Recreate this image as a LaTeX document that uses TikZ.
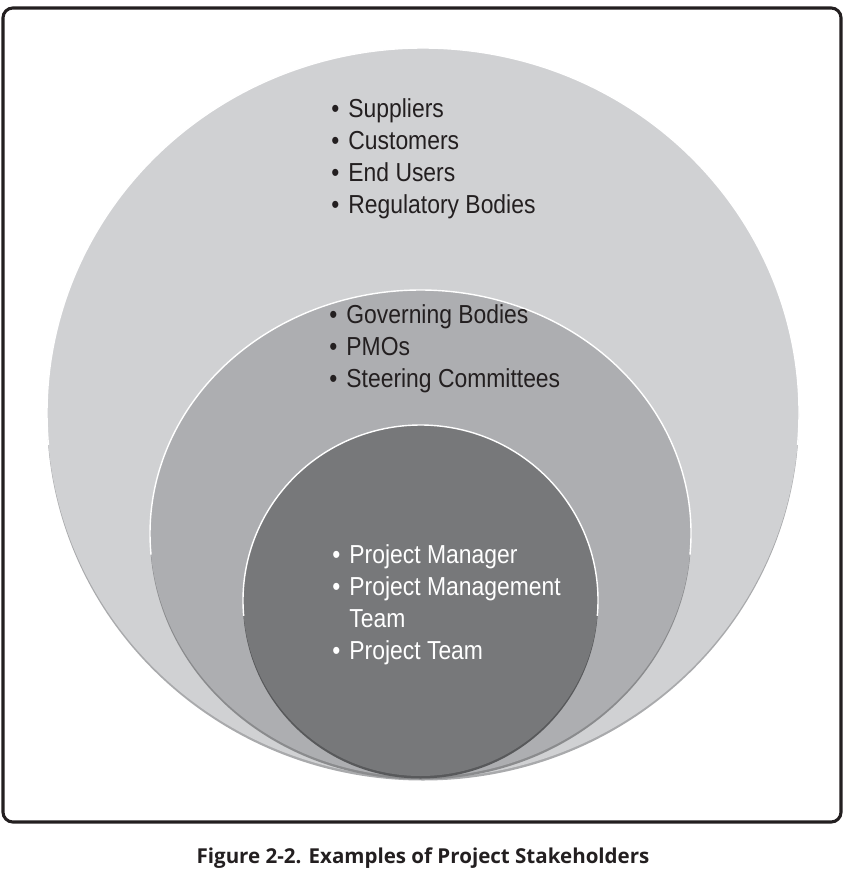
\documentclass[tikz,border=0pt]{standalone}
\usepackage{fontspec}
\setmainfont{Liberation Sans}[FakeStretch=0.88]
\newfontfamily\capfont{Open Sans}
\usetikzlibrary{positioning}

\definecolor{ringA}{HTML}{D0D1D3}
\definecolor{ringB}{HTML}{ADAEB1}
\definecolor{ringC}{HTML}{77787A}
\definecolor{rimA}{HTML}{A9AAAC}
\definecolor{rimB}{HTML}{8A8B8D}
\definecolor{rimC}{HTML}{58595B}
\definecolor{inktext}{HTML}{231F20}

\tikzset{
  listbox/.style={anchor=west,inner sep=0pt,text=inktext,
    font=\fontsize{18.5}{22.8}\selectfont},
}
\newcommand{\blist}[1]{\begin{tabular}{@{}l@{\hspace{6.5pt}}l@{}}#1\end{tabular}}

\begin{document}
\begin{tikzpicture}[x=0.025cm,y=-0.025cm]
  \useasboundingbox (0,0) rectangle (847,874);

  % the rings, outer first
  % centre x / centre y / x radius / y radius / fill / rim
  \foreach \cx/\cy/\rx/\ry/\col/\rim in {423/413/376/365/ringA/rimA,
                                          420.5/533.5/270.5/243.5/ringB/rimB,
                                          420.5/600.5/177.5/175.5/ringC/rimC}
  {
    \fill[\rim] (\cx,\cy+2.5) ellipse[x radius=\rx,y radius=\ry];
    \fill[\col] (\cx,\cy) ellipse[x radius=\rx,y radius=\ry];
    \draw[white,line width=1pt] ({\cx+\rx*cos(5)},{\cy+\ry*sin(5)})
      arc[start angle=5,end angle=-185,x radius=\rx,y radius=\ry];
  }

  %% the lists
  \node[listbox] (outerlist) at (331,159)
    {\blist{\textbullet & Suppliers\\ \textbullet & Customers\\
            \textbullet & End Users\\ \textbullet & Regulatory Bodies}};
  \node[listbox] (middlelist) at (329,349)
    {\blist{\textbullet & Governing Bodies\\ \textbullet & PMOs\\
            \textbullet & Steering Committees}};
  \node[listbox,text=white] (innerlist) at (332,605)
    {\blist{\textbullet & Project Manager\\ \textbullet & Project Management\\
            & Team\\ \textbullet & Project Team}};

  % the frame
  \draw[line width=2.2pt,color=inktext,rounded corners=7pt] (3,8) rectangle (841,822);

  % caption
  \node[text=inktext,font=\capfont\bfseries\fontsize{14.6}{17}\selectfont] (caption) at (423,858)
    {Figure 2-2. Examples of Project Stakeholders};
\end{tikzpicture}
\end{document}
